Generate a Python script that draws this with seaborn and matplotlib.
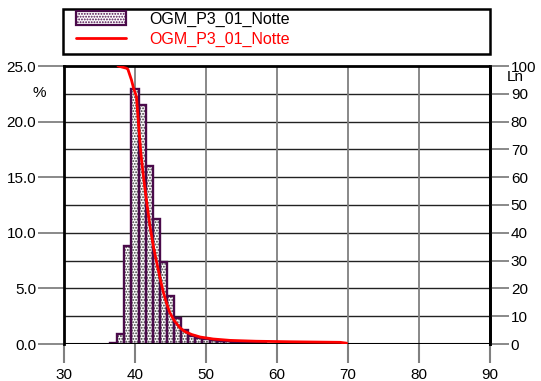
import matplotlib
matplotlib.use("Agg")
import matplotlib.pyplot as plt
import seaborn as sns
import numpy as np
import pandas as pd
from matplotlib.patches import Patch, Rectangle
from matplotlib.lines import Line2D
from matplotlib.ticker import FixedLocator

# ---------------- data ----------------
series_name = "OGM_P3_01_Notte"
levels = [37, 38, 39, 40, 41, 42, 43, 44, 45, 46, 47, 48, 49, 50, 51, 52, 53, 54, 55, 56, 57, 58]
percent = [0.05, 0.9, 8.8, 22.9, 21.5, 16.0, 11.2, 7.35, 4.3, 2.3, 1.3, 0.75, 0.55, 0.45,
           0.35, 0.3, 0.25, 0.2, 0.15, 0.1, 0.1, 0.05]
ln_level = [37.6, 38.2, 38.8, 39.0, 39.5, 39.8, 40.2, 40.5, 40.85, 41.2, 41.6, 42.1, 42.6,
            43.0, 43.5, 44.0, 44.5, 44.9, 45.5, 46.3, 47.0, 48.0, 49.2, 51.0, 53.4, 57.0,
            62.0, 68.9, 69.8]
ln_value = [100, 99.6, 99.2, 98.8, 95, 92, 89, 79, 68, 60, 52, 42.5, 35,
            30, 24, 18.5, 14.2, 11.3, 8.5, 5.9, 4.5, 3.4, 2.5, 1.8, 1.3, 1.0,
            0.8, 0.6, 0.3]
x_ticks = [30, 40, 50, 60, 70, 80, 90]
left_ticks = [0, 5, 10, 15, 20, 25]
right_ticks = [0, 10, 20, 30, 40, 50, 60, 70, 80, 90, 100]

# ---------------- style ----------------
sns.set_style("white")
plt.rcParams['font.family'] = ['Liberation Sans', 'DejaVu Sans']
plt.rcParams['hatch.linewidth'] = 0.9
plt.rcParams['text.color'] = 'black'
plt.rcParams['xtick.labelcolor'] = 'black'
plt.rcParams['ytick.labelcolor'] = 'black'

W, H = 541, 381
fig = plt.figure(figsize=(W / 100, H / 100), dpi=100)
L, R, B, T = 64, 490, 344, 66
ax = fig.add_axes([L / W, 1 - B / H, (R - L) / W, (B - T) / H])

bar_df = pd.DataFrame({"level": levels, "percent": percent})
purple = "#4a0a4a"
# stippled fill (dark dots on white)
sns.histplot(data=bar_df, x="level", weights="percent", discrete=True, shrink=1.0,
             stat="count", color="white", edgecolor="#222222", linewidth=0,
             alpha=1, ax=ax, zorder=3)
for p in ax.patches:
    p.set_hatch("......")
    p.set_facecolor("white")
    p.set_edgecolor("#333333")
    p.set_linewidth(0)
n_fill = len(ax.patches)
# purple outlines
sns.histplot(data=bar_df, x="level", weights="percent", discrete=True, shrink=1.0,
             stat="count", fill=False, edgecolor=purple, linewidth=1.7,
             ax=ax, zorder=4, element="bars")
for p in ax.patches[n_fill:]:
    p.set_edgecolor(purple)
    p.set_facecolor("none")

ax.set_xlim(30, 90)
ax.set_ylim(0, 25)
ax.set_xlabel("")
ax.set_ylabel("")
ax.set_xticks(x_ticks)
ax.set_xticklabels([str(t) for t in x_ticks], fontsize=11)
ax.set_yticks(left_ticks)
ax.set_yticklabels([f"{t:.1f}" for t in left_ticks], fontsize=11)
ax.yaxis.set_minor_locator(FixedLocator([2.5, 7.5, 12.5, 17.5, 22.5]))
ax.tick_params(axis='y', which='minor', length=0)
ax.tick_params(axis='y', which='major', direction='out', length=19, width=1.3,
               color='#808080', pad=1, left=True, labelcolor='black')
ax.tick_params(axis='x', which='major', direction='out', length=14, width=1.5,
               color='#808080', pad=3, bottom=True, labelcolor='black')

ax.set_axisbelow(True)
ax.grid(False)
for yv in np.arange(2.5, 25, 2.5):
    ax.axhline(yv, color='#222222', lw=1.0, zorder=1)
for xv in [40, 50, 60, 70, 80]:
    ax.axvline(xv, color='#7f7f7f', lw=1.3, zorder=1)
ax.axhline(0, color='black', lw=1.5, zorder=5)

for s in ['left', 'right', 'top']:
    ax.spines[s].set_color('black')
    ax.spines[s].set_linewidth(2)
ax.spines['bottom'].set_visible(False)

ax2 = ax.twinx()
line_df = pd.DataFrame({"level": ln_level, "Ln": ln_value})
sns.lineplot(data=line_df, x="level", y="Ln", color="red", lw=2, ax=ax2, zorder=5)
ax2.set_ylim(0, 100)
ax2.set_xlim(30, 90)
ax2.set_ylabel("")
ax2.set_yticks(right_ticks)
ax2.set_yticklabels([str(t) for t in right_ticks], fontsize=11)
ax2.tick_params(axis='y', direction='out', length=14, width=1.3, color='#808080',
                pad=1, right=True, labelcolor='black')
for s in ['left', 'top', 'bottom']:
    ax2.spines[s].set_visible(False)
ax2.spines['right'].set_color('black')
ax2.spines['right'].set_linewidth(2)

# axis unit labels
fig.text(39 / W, 1 - 93 / H, "%", ha='center', va='center', fontsize=11, color='black')
fig.text(515 / W, 1 - 77 / H, "Ln", ha='center', va='center', fontsize=11, color='black')

# legend frame and entries
fig.patches.append(Rectangle((63 / W, 1 - 54 / H), 427 / W, 45 / H,
                             transform=fig.transFigure, fill=False,
                             edgecolor='black', lw=1.8))
handles = [Patch(facecolor='white', edgecolor=purple, hatch='......', lw=1.6),
           Line2D([0], [0], color='red', lw=2)]
leg = fig.legend(handles, [series_name, series_name], loc='upper left',
                 bbox_to_anchor=(76 / W, 1 - 11 / H), frameon=False,
                 fontsize=11.5, borderpad=0, borderaxespad=0, handlelength=3.1,
                 handleheight=1.0, handletextpad=1.5, labelspacing=0.3)
leg.get_texts()[0].set_color('black')
leg.get_texts()[1].set_color('red')

fig.savefig("out.png", dpi=100)
